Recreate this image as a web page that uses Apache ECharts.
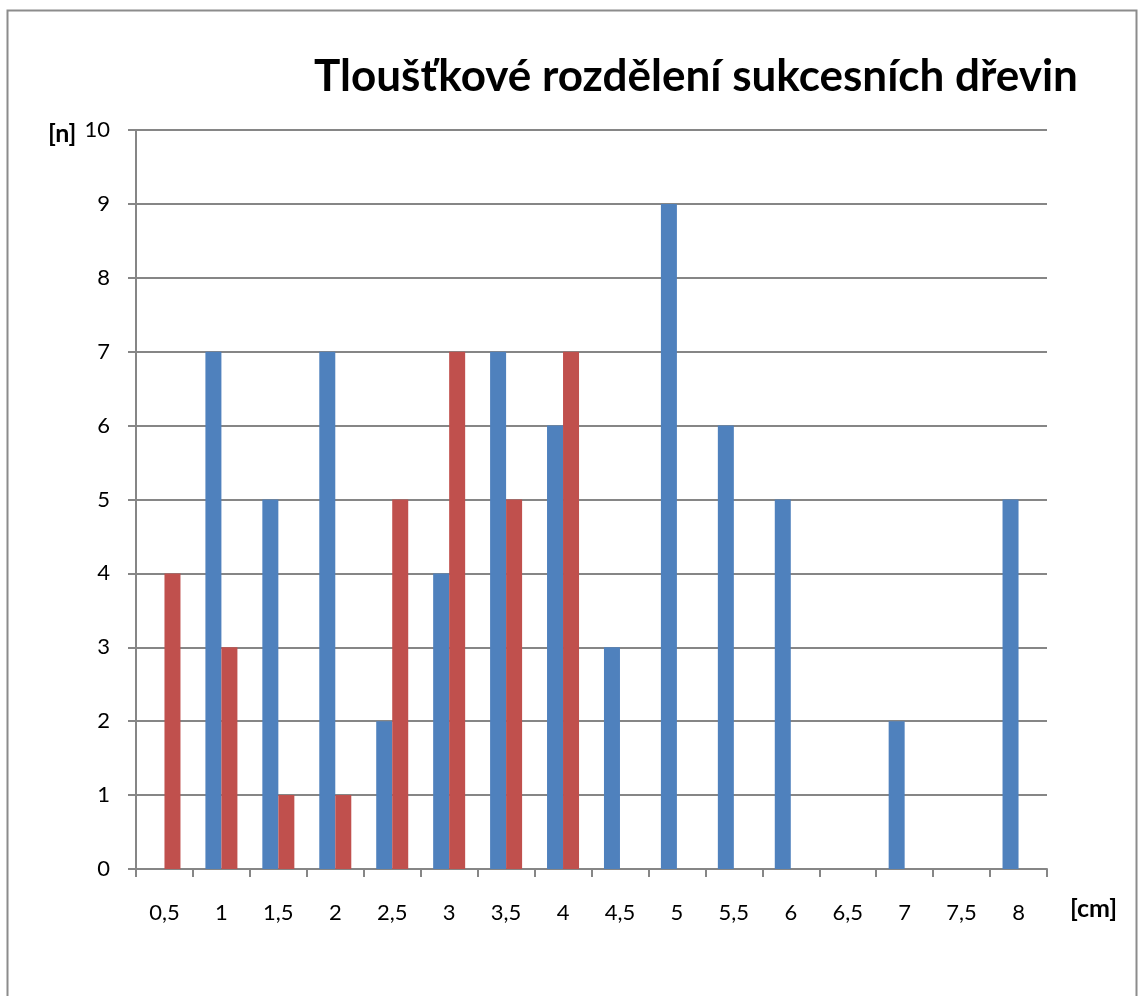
<!DOCTYPE html>
<html><head><meta charset="utf-8">
<script src="https://cdn.jsdelivr.net/npm/echarts@6/dist/echarts.min.js"></script>
<style>html,body{margin:0;padding:0;background:#fff}#c{width:1141px;height:996px}</style>
</head><body><div id="c"></div>
<script>
const categories = ['0,5','1','1,5','2','2,5','3','3,5','4','4,5','5','5,5','6','6,5','7','7,5','8'];
const blueValues = [0,7,5,7,2,4,7,6,3,9,6,5,0,2,0,5];
const redValues  = [4,3,1,1,5,7,5,7,0,0,0,0,0,0,0,0];
const yTicks = {min:0, max:10, interval:1};
const FONT = 'Lato';
const chart = echarts.init(document.getElementById('c'));
chart.setOption({
  animation:false,
  backgroundColor:'#fff',
  title:{text:'Tloušťkové rozdělení sukcesních dřevin', left:691, top:50, textAlign:'center',
    textStyle:{fontFamily:FONT, fontWeight:'bold', fontSize:44, color:'#000'}},
  grid:{left:136, right:94, top:130, bottom:127},
  xAxis:{type:'category', data:categories,
    axisLine:{lineStyle:{color:'#868686', width:2}},
    axisTick:{show:true, length:8, alignWithLabel:false, lineStyle:{color:'#868686', width:2}},
    axisLabel:{fontFamily:FONT, fontSize:22, color:'#000', margin:33}},
  yAxis:{type:'value', min:yTicks.min, max:yTicks.max, interval:yTicks.interval,
    axisLine:{show:true, lineStyle:{color:'#868686', width:2}},
    axisTick:{show:true, length:8, lineStyle:{color:'#868686', width:2}},
    splitLine:{lineStyle:{color:'#868686', width:2}},
    axisLabel:{fontFamily:FONT, fontSize:22, color:'#000', margin:26}},
  series:[
    {type:'bar', data:blueValues, barWidth:16, barGap:'0%', itemStyle:{color:'#4F81BD'}},
    {type:'bar', data:redValues, barWidth:16, barGap:'0%', itemStyle:{color:'#C0504D'}}
  ],
  graphic:[
    {type:'rect', shape:{x:7.5, y:10.5, width:1129, height:1100}, style:{fill:'none', stroke:'#8c8c8c', lineWidth:2}, silent:true},
    {type:'text', left:48, top:121, style:{text:'[n]', font:'bold 25px Lato', fill:'#000'}},
    {type:'text', left:1070, top:896, style:{text:'[cm]', font:'bold 25px Lato', fill:'#000'}}
  ]
});
</script></body></html>
